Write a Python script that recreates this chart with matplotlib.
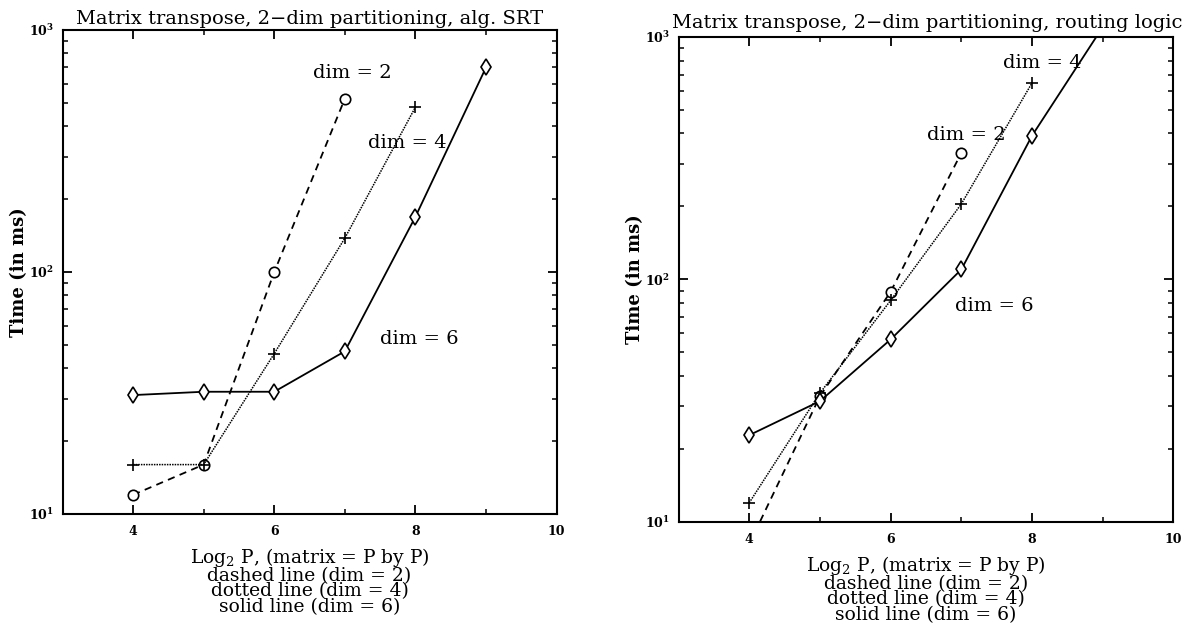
import matplotlib
matplotlib.use("Agg")
import matplotlib.pyplot as plt
from matplotlib.ticker import LogLocator, LogFormatterMathtext, FixedFormatter, FixedLocator, NullFormatter

plt.rcParams['font.family'] = ['DejaVu Serif']
plt.rcParams['mathtext.fontset'] = 'dejavuserif'

# ---- data: left panel (alg. SRT) ----
x_left_d2 = [4, 5, 6, 7]
y_left_d2 = [12, 16, 100, 520]
x_left_d4 = [4, 5, 6, 7, 8]
y_left_d4 = [16, 16, 46, 138, 480]
x_left_d6 = [4, 5, 6, 7, 8, 9]
y_left_d6 = [31, 32, 32, 47, 169, 700]

# ---- data: right panel (routing logic) ----
x_right_d2 = [4, 5, 6, 7]
y_right_d2 = [8.1, 33, 89, 333]
x_right_d4 = [4, 5, 6, 7, 8]
y_right_d4 = [12, 34, 82, 205, 647]
x_right_d6 = [4, 5, 6, 7, 8, 9]
y_right_d6 = [22.8, 31.5, 56.6, 110, 392, 1100]

titles = ["Matrix transpose, 2\u2212dim partitioning, alg. SRT",
          "Matrix transpose, 2\u2212dim partitioning, routing logic"]
xlabel = ("Log$_2$ P, (matrix = P by P)\ndashed line (dim = 2)\n"
          "dotted line (dim = 4)\nsolid line (dim = 6)")
ylabel = "Time (in ms)"
xtick_labels = ["4", "6", "8", "10"]

left_labels = [("dim = 2", 7.10, 664), ("dim = 4", 7.88, 341), ("dim = 6", 8.06, 53)]
right_labels = [("dim = 4", 8.15, 782), ("dim = 2", 7.07, 394), ("dim = 6", 7.46, 78)]

fig = plt.figure(figsize=(11.91, 6.24), dpi=100)
ax1 = fig.add_axes([0.0525, 0.1763, 0.4148, 0.7756])
ax2 = fig.add_axes([0.5697, 0.1635, 0.4156, 0.7772])

def draw(ax, d2, d4, d6, labels, title, title_left=False):
    ax.plot(*d2, color='black', ls=(0, (4, 3)), lw=1.3, marker='o', ms=7.5,
            mfc='white', mec='black', mew=1.2)
    ax.plot(*d4, color='black', ls=(0, (1, 0.7)), lw=1.1, marker='+', ms=9,
            mew=1.2)
    ax.plot(*d6, color='black', ls='-', lw=1.3, marker='d', ms=8.5,
            mfc='white', mec='black', mew=1.2)
    ax.set_yscale('log')
    ax.set_xlim(3, 10)
    ax.set_ylim(10, 1000)
    ax.xaxis.set_major_locator(FixedLocator([4, 6, 8, 10]))
    ax.xaxis.set_major_formatter(FixedFormatter(xtick_labels))
    ax.xaxis.set_minor_locator(FixedLocator([5, 7, 9]))
    ax.yaxis.set_major_locator(LogLocator(base=10))
    ax.yaxis.set_major_formatter(LogFormatterMathtext())
    ax.yaxis.set_minor_locator(LogLocator(base=10, subs=range(2, 10)))
    ax.yaxis.set_minor_formatter(NullFormatter())
    ax.tick_params(which='both', direction='in', top=True, right=True)
    ax.tick_params(which='major', length=6.5, width=1.3, labelsize=9, pad=6)
    ax.tick_params(axis='x', which='major', pad=8)
    ax.tick_params(which='minor', length=3.5, width=1.1)
    for lab in ax.get_xticklabels() + ax.get_yticklabels():
        lab.set_fontweight('bold')
    for s in ax.spines.values():
        s.set_linewidth(1.5)
    for txt, x, y in labels:
        ax.text(x, y, txt, ha='center', va='center', fontsize=14)
    if title_left:
        ax.text(-0.013, 1.01, title, transform=ax.transAxes, ha='left', va='bottom',
                fontsize=14)
    else:
        ax.set_title(title, fontsize=14, pad=4)
    ax.set_xlabel(xlabel, fontsize=13.5, linespacing=0.82, labelpad=6)
    ax.set_ylabel(ylabel, fontsize=13, fontweight='bold', labelpad=1)

draw(ax1, (x_left_d2, y_left_d2), (x_left_d4, y_left_d4), (x_left_d6, y_left_d6),
     left_labels, titles[0])
draw(ax2, (x_right_d2, y_right_d2), (x_right_d4, y_right_d4), (x_right_d6, y_right_d6),
     right_labels, titles[1], title_left=True)

fig.savefig("out.png", dpi=100)
